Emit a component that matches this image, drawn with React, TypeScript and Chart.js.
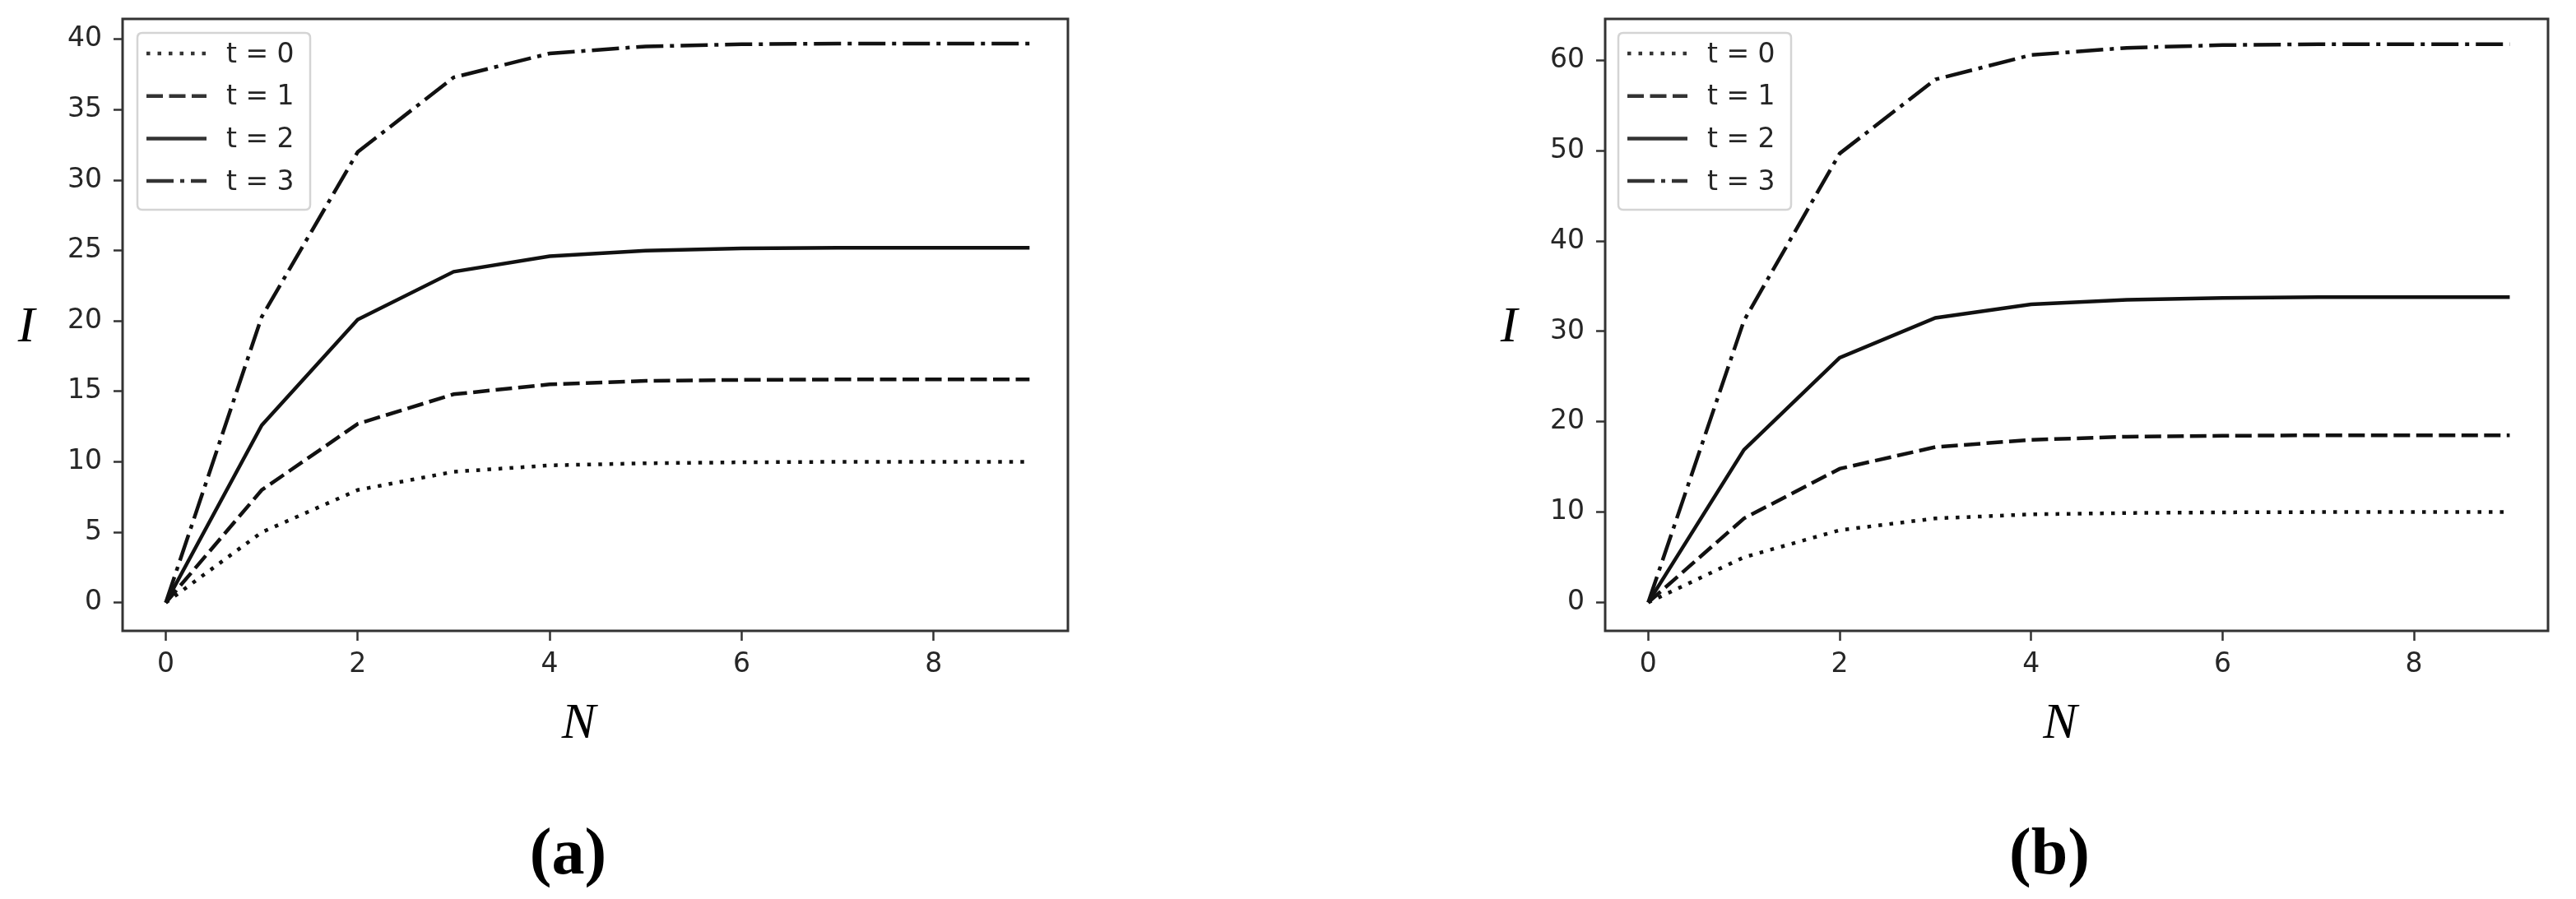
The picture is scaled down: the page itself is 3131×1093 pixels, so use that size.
import React, { useEffect, useRef } from "react";
import { Chart, registerables } from "chart.js";

Chart.register(...registerables);

// ---------- data ----------
const N_VALUES = [0, 1, 2, 3, 4, 5, 6, 7, 8, 9];
const SERIES_LABELS = ["t = 0", "t = 1", "t = 2", "t = 3"];

const A_T0 = [0, 5.0, 8.0, 9.3, 9.75, 9.9, 9.97, 10.0, 10.0, 10.0];
const A_T1 = [0, 8.0, 12.7, 14.8, 15.5, 15.75, 15.82, 15.85, 15.85, 15.85];
const A_T2 = [0, 12.6, 20.1, 23.5, 24.6, 25.0, 25.15, 25.2, 25.2, 25.2];
const A_T3 = [0, 20.3, 32.0, 37.3, 39.0, 39.5, 39.65, 39.7, 39.7, 39.7];

const B_T0 = [0, 5.0, 8.0, 9.3, 9.75, 9.9, 9.97, 10.0, 10.0, 10.0];
const B_T1 = [0, 9.3, 14.8, 17.2, 18.0, 18.35, 18.45, 18.5, 18.5, 18.5];
const B_T2 = [0, 16.9, 27.1, 31.5, 33.0, 33.5, 33.7, 33.8, 33.8, 33.8];
const B_T3 = [0, 31.2, 49.7, 57.9, 60.6, 61.4, 61.7, 61.8, 61.8, 61.8];

const X_TICKS = [0, 2, 4, 6, 8];
const Y_TICKS_A = [0, 5, 10, 15, 20, 25, 30, 35, 40];
const Y_TICKS_B = [0, 10, 20, 30, 40, 50, 60];

const X_TITLE = "N";
const Y_TITLE = "I";
const CAPTIONS = ["(a)", "(b)"];

// ---------- styles ----------
const LINE_COLOR = "#111111";
const LINE_WIDTH = 4.5;
const DASHES: number[][] = [[4.5, 9], [20, 7.5], [], [33, 8, 5, 8]];
const TICK_FONT = { family: "'DejaVu Sans'", size: 33 };
const TEXT_COLOR = "#262626";

const decorPlugin = {
  id: "decor",
  afterDraw(chart: any, _args: any, opts: any) {
    const { ctx, chartArea: ca } = chart;
    ctx.save();
    // frame
    ctx.setLineDash([]);
    ctx.lineWidth = 3;
    ctx.strokeStyle = "#333333";
    ctx.strokeRect(ca.left, ca.top, ca.right - ca.left, ca.bottom - ca.top);

    // legend
    const bx = ca.left + opts.legendDx;
    const by = ca.top + 17;
    const bw = 210;
    const bh = 215;
    const r = 6;
    ctx.beginPath();
    ctx.moveTo(bx + r, by);
    ctx.lineTo(bx + bw - r, by);
    ctx.quadraticCurveTo(bx + bw, by, bx + bw, by + r);
    ctx.lineTo(bx + bw, by + bh - r);
    ctx.quadraticCurveTo(bx + bw, by + bh, bx + bw - r, by + bh);
    ctx.lineTo(bx + r, by + bh);
    ctx.quadraticCurveTo(bx, by + bh, bx, by + bh - r);
    ctx.lineTo(bx, by + r);
    ctx.quadraticCurveTo(bx, by, bx + r, by);
    ctx.closePath();
    ctx.fillStyle = "rgba(255,255,255,0.85)";
    ctx.fill();
    ctx.lineWidth = 2.5;
    ctx.strokeStyle = "#d4d4d4";
    ctx.stroke();

    chart.data.datasets.forEach((ds: any, i: number) => {
      const cy = by + 25 + i * 51.7;
      ctx.setLineDash(ds.borderDash || []);
      ctx.lineCap = "butt";
      ctx.lineWidth = LINE_WIDTH;
      ctx.strokeStyle = "#333333";
      ctx.beginPath();
      ctx.moveTo(bx + 11, cy);
      ctx.lineTo(bx + 84, cy);
      ctx.stroke();
      ctx.setLineDash([]);
      ctx.fillStyle = TEXT_COLOR;
      ctx.font = "33px 'DejaVu Sans'";
      ctx.textAlign = "left";
      ctx.textBaseline = "middle";
      ctx.fillText(ds.label, bx + 108, cy + 2);
    });

    // axis titles
    ctx.fillStyle = "#000000";
    ctx.font = "italic 62px 'Liberation Serif'";
    ctx.textAlign = "center";
    ctx.textBaseline = "alphabetic";
    ctx.fillText(Y_TITLE, ca.left - 117, 415);
    const cx = (ca.left + ca.right) / 2;
    ctx.fillText(X_TITLE, cx - 20, 897);

    // caption
    ctx.font = "bold 80px 'Liberation Serif'";
    ctx.fillText(opts.caption, cx - 33, 1062);
    ctx.restore();
  },
};

type PanelProps = {
  series: number[][];
  yTicks: number[];
  yMin: number;
  yMax: number;
  caption: string;
  left: number;
  width: number;
  padLeft: number;
  padRight: number;
  legendDx: number;
};

function zeroPad(s: any) {
  s.paddingTop = 0;
  s.paddingBottom = 0;
  s.paddingLeft = 0;
  s.paddingRight = 0;
}

function Panel(p: PanelProps) {
  const ref = useRef<HTMLCanvasElement | null>(null);
  useEffect(() => {
    if (!ref.current) return;
    const datasets = p.series.map((vals, i) => ({
      label: SERIES_LABELS[i],
      data: N_VALUES.map((n, k) => ({ x: n, y: vals[k] })),
      borderColor: LINE_COLOR,
      backgroundColor: LINE_COLOR,
      borderWidth: LINE_WIDTH,
      borderDash: DASHES[i],
      borderCapStyle: "butt" as const,
      pointRadius: 0,
      tension: 0,
      fill: false,
    }));
    const chart = new Chart(ref.current, {
      type: "line",
      data: { datasets },
      plugins: [decorPlugin],
      options: {
        animation: false,
        responsive: false,
        maintainAspectRatio: false,
        layout: { padding: { top: 23, left: p.padLeft, right: p.padRight, bottom: 266 } },
        plugins: {
          legend: { display: false },
          tooltip: { enabled: false },
          decor: { caption: p.caption, legendDx: p.legendDx },
        } as any,
        scales: {
          x: {
            type: "linear",
            min: -0.45,
            max: 9.4,
            afterBuildTicks: (s: any) => {
              s.ticks = X_TICKS.map((v) => ({ value: v }));
            },
            afterFit: (s: any) => {
              s.height = 60;
              zeroPad(s);
            },
            ticks: { font: TICK_FONT, color: TEXT_COLOR, padding: 10, maxRotation: 0, autoSkip: false },
            grid: {
              display: true,
              drawOnChartArea: false,
              drawTicks: true,
              tickLength: 12,
              tickWidth: 2.5,
              tickColor: "#333333",
            },
            border: { display: false },
          },
          y: {
            type: "linear",
            min: p.yMin,
            max: p.yMax,
            afterBuildTicks: (s: any) => {
              s.ticks = p.yTicks.map((v) => ({ value: v }));
            },
            afterFit: (s: any) => {
              s.width = 149;
              zeroPad(s);
            },
            ticks: { font: TICK_FONT, color: TEXT_COLOR, padding: 14, autoSkip: false },
            grid: {
              display: true,
              drawOnChartArea: false,
              drawTicks: true,
              tickLength: 11,
              tickWidth: 2.5,
              tickColor: "#333333",
            },
            border: { display: false },
          },
        },
      } as any,
    });
    return () => chart.destroy();
  }, []);
  return (
    <canvas
      ref={ref}
      width={p.width}
      height={1093}
      style={{ position: "absolute", left: p.left, top: 0, width: p.width, height: 1093 }}
    />
  );
}

export default function App() {
  return (
    <div style={{ position: "fixed", left: 0, top: 0, width: 3131, height: 1093, background: "#ffffff" }}>
      <Panel
        series={[A_T0, A_T1, A_T2, A_T3]}
        yTicks={Y_TICKS_A}
        yMin={-2.0}
        yMax={41.45}
        caption={CAPTIONS[0]}
        left={0}
        width={1560}
        padLeft={0}
        padRight={262}
        legendDx={18}
      />
      <Panel
        series={[B_T0, B_T1, B_T2, B_T3]}
        yTicks={Y_TICKS_B}
        yMin={-3.15}
        yMax={64.6}
        caption={CAPTIONS[1]}
        left={1560}
        width={1571}
        padLeft={242}
        padRight={34}
        legendDx={16}
      />
    </div>
  );
}
